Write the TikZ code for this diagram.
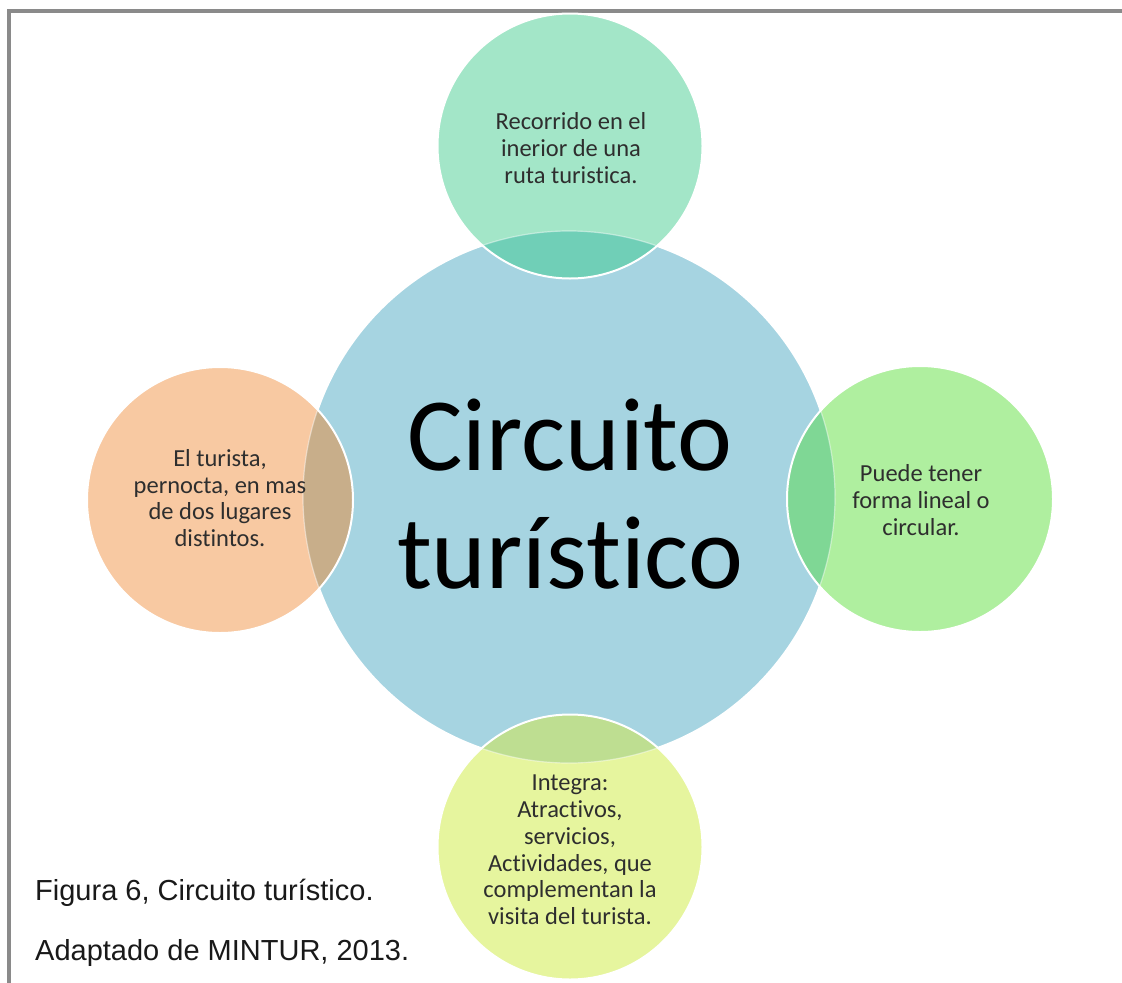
\documentclass[tikz,border=0pt]{standalone}
\usepackage{fontspec}
\setmainfont{Carlito}[Ligatures={NoCommon,NoRare}]
\newfontfamily\capfont{Liberation Sans}
\definecolor{framec}{HTML}{8A8A8A}
\definecolor{bigc}{HTML}{A6D4E1}
\definecolor{topc}{HTML}{A3E6C8}
\definecolor{topov}{HTML}{70CFB7}
\definecolor{rightc}{HTML}{AFEF9F}
\definecolor{rightov}{HTML}{7FD795}
\definecolor{leftc}{HTML}{F8C9A2}
\definecolor{leftov}{HTML}{C8AE8A}
\definecolor{botc}{HTML}{E6F59E}
\definecolor{botov}{HTML}{BEDE91}
\definecolor{txtc}{HTML}{2E2E2E}
\tikzset{
  bigcircle/.style={circle, inner sep=0pt, minimum size=532bp, fill=bigc, draw=white, line width=2bp},
  satcircle/.style={circle, inner sep=0pt, minimum size=265bp},
  sattext/.style={align=center, text=txtc, font=\fontsize{24.5bp}{26.8bp}\selectfont, inner sep=0pt},
  bigtext/.style={anchor=base, text=black, font=\fontsize{104bp}{118bp}\selectfont, inner sep=0pt},
  captext/.style={anchor=base west, text=black!90, font=\capfont\fontsize{29bp}{34bp}\selectfont, inner sep=0pt},
  ringline/.style={draw=white, line width=2bp},
  lensline/.style={draw=white, draw opacity=0.45, line width=1.2bp}
}
\newcommand{\satellite}[5]{%
  % #1 name, #2 position, #3 fill, #4 overlap colour, #5 radius
  \node[satcircle, fill=#3] (#1) at #2 {};
  \begin{scope}
    \clip (big.center) circle (266);
    \fill[#4] (#1.center) circle (#5);
  \end{scope}
  \begin{scope}
    \clip (#1.center) circle (#5);
    \draw[lensline] (big.center) circle (266);
  \end{scope}
  \draw[ringline] (#1.center) circle (#5);
}
\begin{document}
\begin{tikzpicture}[x=1bp,y=-1bp]
\useasboundingbox (0,0) rectangle (1122,983);
\fill[white] (0,0) rectangle (1122,983);
\draw[framec, line width=4bp] (9,983) -- (9,11) -- (1122,11);

\node[bigcircle] (big) at (569,497) {};

\satellite{top}{(570,146)}{topc}{topov}{132.5}
\satellite{right}{(920,499)}{rightc}{rightov}{133}
\satellite{left}{(220,500)}{leftc}{leftov}{133}
\satellite{bottom}{(570,847)}{botc}{botov}{132.5}

\node[bigtext] (c1) at (570,470) {Circuito};
\node[bigtext] (c2) at (570,588) {turístico};

\node[sattext] (ttop) at (571,148) {Recorrido en el\\inerior de una\\ruta turistica.};
\node[sattext] (tright) at (921,500) {Puede tener\\forma lineal o\\circular.};
\node[sattext] (tleft) at (220,498) {El turista,\\pernocta, en mas\\de dos lugares\\distintos.};
\node[sattext] (tbottom) at (570,850) {Integra:\\Atractivos,\\servicios,\\Actividades, que\\complementan la\\visita del turista.};

\node[captext] (cap1) at (35,900) {Figura 6, Circuito turístico.};
\node[captext] (cap2) at (35,960) {Adaptado de MINTUR, 2013.};
\end{tikzpicture}
\end{document}
